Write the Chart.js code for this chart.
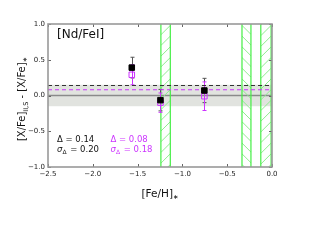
<!DOCTYPE html>
<html>
<head>
<meta charset="utf-8">
<script src="https://cdn.jsdelivr.net/npm/chart.js@4/dist/chart.umd.min.js"></script>
<style>
  html, body { margin: 0; padding: 0; background: #fff; }
  #wrap { width: 320px; height: 240px; }
</style>
</head>
<body>
<div id="wrap"><canvas id="c"></canvas></div>
<script>
// data
const feH = [-1.565, -1.245, -0.755];
const deltaBlack = [0.39, -0.065, 0.07];
const errBlack = [0.145, 0.15, 0.17];
const deltaPurple = [0.29, -0.10, -0.01];
const errPurple = [0.14, 0.135, 0.20];
const meanBlack = 0.14;
const meanPurple = 0.08;
const sigmaBlack = 0.20;
const sigmaPurple = 0.18;
const scatterBand = [-0.15, 0.15];
const greenLo = [-1.24, -0.335, -0.125];
const greenHi = [-1.135, -0.235, -0.01];
const xTicks = [-2.5, -2.0, -1.5, -1.0, -0.5, 0.0];
const yTicks = [-1.0, -0.5, 0.0, 0.5, 1.0];

const PURPLE = '#cc33ff';
const hatchDir = [1, -1, 1]; // 1 = "/", -1 = "\"
const FONT = '"DejaVu Sans", sans-serif';

const fmt = v => (v < 0 ? '\u2212' : '') + Math.abs(v).toFixed(1);

const decor = {
    id: 'decor',
    beforeDatasetsDraw(chart) {
        const {ctx, chartArea: a, scales: {x, y}} = chart;
        ctx.save();
        ctx.beginPath();
        ctx.rect(a.left, a.top, a.right - a.left, a.bottom - a.top);
        ctx.clip();

        // grey scatter band
        ctx.fillStyle = '#e1e3df';
        const b0 = y.getPixelForValue(scatterBand[1]), b1 = y.getPixelForValue(scatterBand[0]);
        ctx.fillRect(a.left, b0, a.right - a.left, b1 - b0);

        // zero line
        ctx.strokeStyle = '#8a8a8a';
        ctx.lineWidth = 1.5;
        ctx.beginPath();
        ctx.moveTo(a.left, y.getPixelForValue(0));
        ctx.lineTo(a.right, y.getPixelForValue(0));
        ctx.stroke();

        // green hatched bands
        greenLo.forEach((lo, i) => {
            const x0 = x.getPixelForValue(lo), x1 = x.getPixelForValue(greenHi[i]);
            const w = x1 - x0;
            ctx.save();
            ctx.beginPath();
            ctx.rect(x0, a.top, w, a.bottom - a.top);
            ctx.clip();
            ctx.strokeStyle = '#90ec90';
            ctx.lineWidth = 1;
            ctx.beginPath();
            for (let yy = a.top - 20; yy < a.bottom + 30; yy += 10.7) {
                if (hatchDir[i] > 0) {
                    ctx.moveTo(x0, yy + w);
                    ctx.lineTo(x1, yy);
                } else {
                    ctx.moveTo(x0, yy);
                    ctx.lineTo(x1, yy + w);
                }
            }
            ctx.stroke();
            ctx.restore();
            ctx.strokeStyle = '#44ee44';
            ctx.lineWidth = 1.2;
            ctx.beginPath();
            ctx.moveTo(x0, a.top); ctx.lineTo(x0, a.bottom);
            ctx.moveTo(x1, a.top); ctx.lineTo(x1, a.bottom);
            ctx.stroke();
        });

        // error bars
        const bars = (vals, errs, col) => {
            ctx.strokeStyle = col;
            ctx.lineWidth = 1;
            vals.forEach((v, i) => {
                const px = Math.round(x.getPixelForValue(feH[i])) + 0.5;
                const t = y.getPixelForValue(v + errs[i]), bt = y.getPixelForValue(v - errs[i]);
                ctx.beginPath();
                ctx.moveTo(px, t); ctx.lineTo(px, bt);
                ctx.moveTo(px - 2, t); ctx.lineTo(px + 2, t);
                ctx.moveTo(px - 2, bt); ctx.lineTo(px + 2, bt);
                ctx.stroke();
            });
        };
        bars(deltaBlack, errBlack, '#555');
        bars(deltaPurple, errPurple, PURPLE);
        ctx.restore();
    },
    afterDraw(chart) {
        const {ctx, chartArea: a, scales: {x, y}} = chart;
        ctx.save();
        // inward ticks on all sides
        ctx.strokeStyle = '#666';
        ctx.lineWidth = 1;
        ctx.beginPath();
        xTicks.forEach(t => {
            const px = Math.round(x.getPixelForValue(t)) + 0.5;
            ctx.moveTo(px, a.bottom); ctx.lineTo(px, a.bottom - 3);
            ctx.moveTo(px, a.top); ctx.lineTo(px, a.top + 3);
        });
        yTicks.forEach(t => {
            const py = Math.round(y.getPixelForValue(t)) + 0.5;
            ctx.moveTo(a.left, py); ctx.lineTo(a.left + 3, py);
            ctx.moveTo(a.right, py); ctx.lineTo(a.right - 3, py);
        });
        ctx.stroke();

        // frame
        ctx.strokeStyle = '#999';
        ctx.lineWidth = 1.6;
        ctx.strokeRect(a.left, a.top, a.right - a.left, a.bottom - a.top);

        // panel label
        ctx.fillStyle = '#111';
        ctx.textBaseline = 'alphabetic';
        ctx.textAlign = 'left';
        ctx.font = '12px ' + FONT;
        ctx.fillText('[Nd/FeI]', a.left + 9, a.top + 14);

        // statistics
        const stats = (px, d, s, col) => {
            ctx.fillStyle = col;
            ctx.font = '8.5px ' + FONT;
            ctx.fillText('\u0394 = ' + d.toFixed(2), px, 141.5);
            ctx.font = 'italic 8.5px ' + FONT;
            ctx.fillText('\u03c3', px, 152);
            let w = ctx.measureText('\u03c3').width;
            ctx.font = '6px ' + FONT;
            ctx.fillText('\u0394', px + w, 154);
            w += ctx.measureText('\u0394').width + 1;
            ctx.font = '8.5px ' + FONT;
            ctx.fillText(' = ' + s.toFixed(2), px + w, 152);
        };
        stats(57, meanBlack, sigmaBlack, '#111');
        stats(110.5, meanPurple, sigmaPurple, PURPLE);

        // axis titles with subscripts
        const rich = (parts, cx, cy, rot) => {
            ctx.save();
            ctx.translate(cx, cy);
            ctx.rotate(rot);
            let total = 0;
            parts.forEach(p => { ctx.font = p[1] + 'px ' + FONT; total += ctx.measureText(p[0]).width; });
            let xx = -total / 2;
            parts.forEach(p => {
                ctx.font = p[1] + 'px ' + FONT;
                ctx.fillText(p[0], xx, p[2]);
                xx += ctx.measureText(p[0]).width;
            });
            ctx.restore();
        };
        ctx.fillStyle = '#111';
        rich([['[Fe/H]', 10.5, 0], ['\u2217', 6.5, 2]], 160, 197, 0);
        rich([['[X/Fe]', 10, 0], ['II,S', 6.5, 2.5], [' - [X/Fe]', 10, 0], ['\u2217', 6.5, 2]], 25, 99, -Math.PI / 2);
        ctx.restore();
    }
};

const pts = (vals) => vals.map((v, i) => ({x: feH[i], y: v}));
const hline = (v) => [{x: xTicks[0], y: v}, {x: xTicks[xTicks.length - 1], y: v}];

new Chart(document.getElementById('c'), {
    type: 'scatter',
    data: {
        datasets: [
            {
                data: pts(deltaBlack),
                pointStyle: 'rect',
                pointRadius: 3.9,
                backgroundColor: '#000',
                borderColor: '#000',
                borderWidth: 1
            },
            {
                data: pts(deltaPurple),
                pointStyle: 'rect',
                pointRadius: 3.9,
                backgroundColor: 'rgba(0,0,0,0)',
                borderColor: PURPLE,
                borderWidth: 1
            },
            {
                type: 'line',
                data: hline(meanBlack),
                borderColor: '#333',
                borderWidth: 1.1,
                borderDash: [4, 3],
                pointRadius: 0
            },
            {
                type: 'line',
                data: hline(meanPurple),
                borderColor: PURPLE,
                borderWidth: 1.1,
                borderDash: [4, 3],
                pointRadius: 0
            }
        ]
    },
    options: {
        responsive: true,
        maintainAspectRatio: false,
        animation: false,
        layout: {padding: {top: 24, right: 48, left: 0, bottom: 0}},
        plugins: {legend: {display: false}, tooltip: {enabled: false}},
        scales: {
            x: {
                type: 'linear',
                min: -2.5,
                max: 0,
                afterFit: s => { s.height = 73; },
                afterBuildTicks: s => { s.ticks = xTicks.map(v => ({value: v})); },
                grid: {display: false, drawTicks: false},
                border: {display: false},
                ticks: {
                    padding: 3,
                    color: '#222',
                    font: {family: FONT, size: 7},
                    maxRotation: 0,
                    callback: v => fmt(v)
                }
            },
            y: {
                min: -1,
                max: 1,
                afterFit: s => { s.width = 48; },
                afterBuildTicks: s => { s.ticks = yTicks.map(v => ({value: v})); },
                grid: {display: false, drawTicks: false},
                border: {display: false},
                ticks: {
                    padding: 3,
                    color: '#222',
                    font: {family: FONT, size: 7},
                    callback: v => fmt(v)
                }
            }
        }
    },
    plugins: [decor]
});
</script>
</body>
</html>
